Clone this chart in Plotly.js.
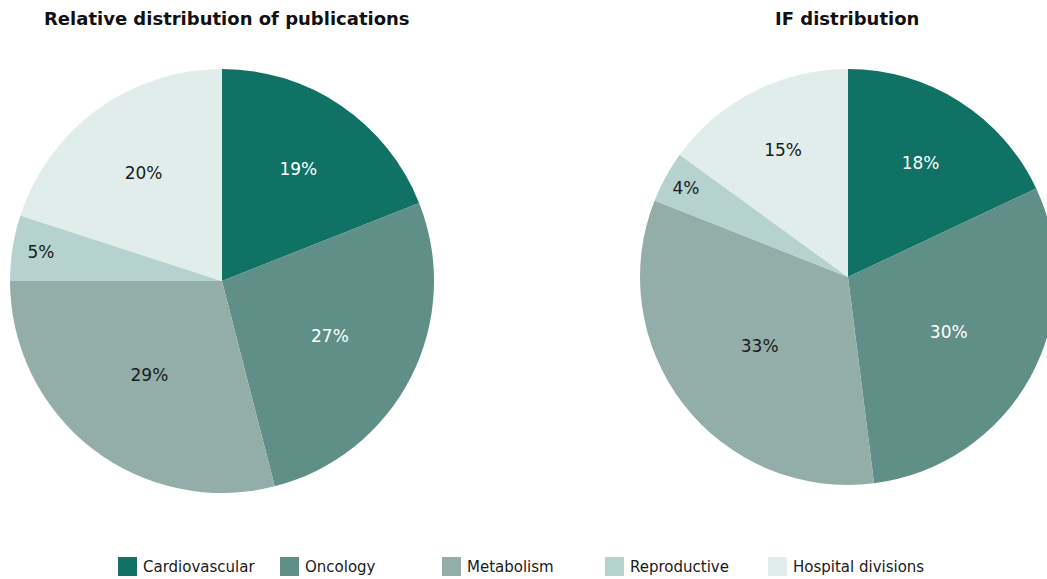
<!DOCTYPE html>
<html>
<head>
<meta charset="utf-8">
<script src="https://cdn.plot.ly/plotly-3.0.1.min.js"></script>
<style>
html,body{margin:0;padding:0;overflow:hidden;background:#fff;}
#chart{width:1070px;height:579px;}
</style>
</head>
<body>
<div id="chart"></div>
<script>
const categories = ["Cardiovascular", "Oncology", "Metabolism", "Reproductive", "Hospital divisions"];
const publicationsShare = [19, 27, 29, 5, 20];
const ifShare = [18, 30, 33, 4, 15];
const colors = ["#107264", "#5f8f86", "#93aea8", "#b6d2cf", "#e0edeb"];
const textColors = ["#ffffff", "#ffffff", "#1a1a1a", "#1a1a1a", "#1a1a1a"];
const chartTitles = ["Relative distribution of publications", "IF distribution"];

const W = 1070, H = 579;
const FONT = "DejaVu Sans, sans-serif";

function pieTrace(values, domainPx) {
  return {
    type: "pie",
    labels: categories,
    values: values,
    sort: false,
    direction: "clockwise",
    rotation: 0,
    marker: { colors: colors, line: { width: 0 } },
    textinfo: "percent",
    textposition: "inside",
    insidetextorientation: "horizontal",
    insidetextfont: { color: textColors, size: 17, family: FONT },
    hoverinfo: "label+percent",
    showlegend: false,
    domain: {
      x: [domainPx.x0 / W, domainPx.x1 / W],
      y: [1 - domainPx.y1 / H, 1 - domainPx.y0 / H]
    }
  };
}

const traces = [
  pieTrace(publicationsShare, { x0: 10, x1: 434, y0: 69, y1: 493 }),
  pieTrace(ifShare, { x0: 640, x1: 1056, y0: 69, y1: 485 })
];

const annotations = [
  { text: "<b>" + chartTitles[0] + "</b>", x: 227 / W, y: 1 - 18 / H },
  { text: "<b>" + chartTitles[1] + "</b>", x: 847 / W, y: 1 - 18 / H }
].map(a => Object.assign(a, {
  xref: "paper", yref: "paper", showarrow: false,
  xanchor: "center", yanchor: "middle",
  font: { family: FONT, size: 18, color: "#111" }
}));

// custom legend built from categories/colors
const legendX = [118, 280, 442, 605, 768];
const shapes = [];
categories.forEach((c, i) => {
  shapes.push({
    type: "rect", xref: "paper", yref: "paper",
    x0: legendX[i] / W, x1: (legendX[i] + 19) / W,
    y0: 1 - 576 / H, y1: 1 - 557 / H,
    fillcolor: colors[i], line: { width: 0 }
  });
  annotations.push({
    text: c, xref: "paper", yref: "paper", showarrow: false,
    x: (legendX[i] + 23) / W, y: 1 - 566.5 / H,
    xanchor: "left", yanchor: "middle",
    font: { family: FONT, size: 15, color: "#1a1a1a" }
  });
});

const layout = {
  width: W, height: H,
  margin: { l: 0, r: 0, t: 0, b: 0 },
  paper_bgcolor: "#ffffff",
  showlegend: false,
  annotations: annotations,
  shapes: shapes,
  font: { family: FONT }
};

Plotly.newPlot("chart", traces, layout, { displayModeBar: false, staticPlot: true });
</script>
</body>
</html>
